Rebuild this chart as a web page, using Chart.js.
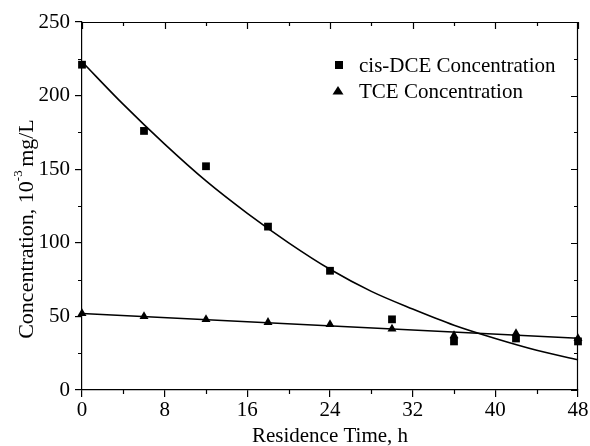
<!DOCTYPE html>
<html>
<head>
<meta charset="utf-8">
<script src="https://cdn.jsdelivr.net/npm/chart.js@4"></script>
<style>
  html, body { margin: 0; padding: 0; background: #fff; }
  #wrap { width: 590px; height: 446px; }
</style>
</head>
<body>
<div id="wrap"><canvas id="conc" width="590" height="446"></canvas></div>
<script>
// measured points
const hours = [0, 6, 12, 18, 24, 30, 36, 42, 48];
const cisDCE = [221, 176, 152, 111, 81, 48, 33, 35, 33];
const tce = [52, 50, 48, 46, 44.5, 41.5, 37, 38.5, 35];

// fitted curves
const fitHours = [0, 4, 8, 12, 16, 20, 24, 28, 32, 36, 40, 44, 48];
const cisFit = [223, 194, 167, 142, 120, 100, 82, 67, 55, 44, 35, 27, 20.5];
const tceFitHours = [0, 48];
const tceFit = [52, 35.2];

const xTicks = [0, 8, 16, 24, 32, 40, 48];
const yTicks = [0, 50, 100, 150, 200, 250];

const FONT = 'Liberation Serif';

function pts(xs, ys) {
    return xs.map((x, i) => ({ x: x, y: ys[i] }));
}

// minor ticks, mirrored top/right axes, axis titles and legend box
const framePlugin = {
    id: 'frame',
    afterDraw(chart) {
        const c = chart.ctx;
        const a = chart.chartArea;
        const xs = chart.scales.x, ys = chart.scales.y;
        c.save();
        c.strokeStyle = '#000';
        c.lineWidth = 1.2;
        c.beginPath();
        c.moveTo(a.left, a.top + 0.5);
        c.lineTo(a.right, a.top + 0.5);
        c.moveTo(a.right - 0.5, a.top);
        c.lineTo(a.right - 0.5, a.bottom);
        for (let v = 0; v <= 48; v += 4) {
            const px = Math.round(xs.getPixelForValue(v)) + 0.5;
            const len = v % 8 === 0 ? 7 : 4;
            c.moveTo(px, a.top);
            c.lineTo(px, a.top + len);
            if (v % 8 !== 0) {
                c.moveTo(px, a.bottom);
                c.lineTo(px, a.bottom + len);
            }
        }
        for (let v = 0; v <= 250; v += 25) {
            const py = Math.round(ys.getPixelForValue(v)) + 0.5;
            const len = v % 50 === 0 ? 7 : 4;
            c.moveTo(a.right, py);
            c.lineTo(a.right - len, py);
            if (v % 50 !== 0) {
                c.moveTo(a.left, py);
                c.lineTo(a.left - len, py);
            }
        }
        c.stroke();

        c.fillStyle = '#000';
        c.textBaseline = 'middle';

        // x title
        c.font = '21px "' + FONT + '"';
        c.textAlign = 'center';
        c.fillText('Residence Time, h', (a.left + a.right) / 2, 436);

        // y title with superscript
        c.save();
        c.translate(27, 228);
        c.rotate(-Math.PI / 2);
        const big = '22px "' + FONT + '"';
        const small = '13px "' + FONT + '"';
        const p1 = 'Concentration, 10', p2 = '-3', p3 = ' mg/L';
        c.font = big;
        const w1 = c.measureText(p1).width, w3 = c.measureText(p3).width;
        c.font = small;
        const w2 = c.measureText(p2).width;
        let x0 = -(w1 + w2 + w3) / 2;
        c.textAlign = 'left';
        c.font = big;
        c.fillText(p1, x0, 0);
        c.font = small;
        c.fillText(p2, x0 + w1, -8);
        c.font = big;
        c.fillText(p3, x0 + w1 + w2 - 2, 0);
        c.restore();

        // legend
        c.fillRect(335, 61, 8, 8);
        c.beginPath();
        c.moveTo(338, 86);
        c.lineTo(343.5, 94.5);
        c.lineTo(332.5, 94.5);
        c.closePath();
        c.fill();
        c.font = '21px "' + FONT + '"';
        c.textAlign = 'left';
        c.fillText('cis-DCE Concentration', 359, 66);
        c.fillText('TCE Concentration', 359, 92);
        c.restore();
    }
};

new Chart(document.getElementById('conc'), {
    type: 'scatter',
    data: {
        datasets: [{
            label: 'cis-DCE fit',
            data: pts(fitHours, cisFit),
            showLine: true,
            borderColor: '#000',
            borderWidth: 1.6,
            pointRadius: 0,
            cubicInterpolationMode: 'monotone',
            fill: false
        }, {
            label: 'TCE fit',
            data: pts(tceFitHours, tceFit),
            showLine: true,
            borderColor: '#000',
            borderWidth: 1.6,
            pointRadius: 0,
            fill: false
        }, {
            label: 'cis-DCE Concentration',
            data: pts(hours, cisDCE),
            pointStyle: 'rect',
            pointRadius: 5.5,
            backgroundColor: '#000',
            borderColor: '#000',
            borderWidth: 0
        }, {
            label: 'TCE Concentration',
            data: pts(hours, tce),
            pointStyle: 'triangle',
            pointRadius: 5.2,
            backgroundColor: '#000',
            borderColor: '#000',
            borderWidth: 0
        }]
    },
    options: {
        responsive: false,
        animation: false,
        clip: false,
        layout: { padding: { top: 22, right: 12, left: 0, bottom: 0 } },
        plugins: {
            legend: { display: false },
            tooltip: { enabled: false }
        },
        scales: {
            x: {
                type: 'linear',
                min: 0,
                max: 48,
                afterBuildTicks: (s) => { s.ticks = xTicks.map(v => ({ value: v })); },
                afterFit: (s) => { s.height = 56; },
                border: { display: true, color: '#000', width: 1.2 },
                grid: { drawOnChartArea: false, drawTicks: true, tickLength: 7, color: '#000', lineWidth: 1.2 },
                ticks: { color: '#000', padding: 1, font: { family: FONT, size: 21 } }
            },
            y: {
                type: 'linear',
                min: 0,
                max: 250,
                afterBuildTicks: (s) => { s.ticks = yTicks.map(v => ({ value: v })); },
                afterFit: (s) => { s.width = 82; },
                border: { display: true, color: '#000', width: 1.2 },
                grid: { drawOnChartArea: false, drawTicks: true, tickLength: 7, color: '#000', lineWidth: 1.2 },
                ticks: { color: '#000', padding: 5, font: { family: FONT, size: 21 } }
            }
        }
    },
    plugins: [framePlugin]
});
</script>
</body>
</html>
